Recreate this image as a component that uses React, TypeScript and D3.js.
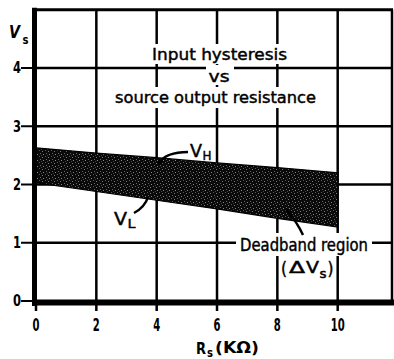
import React from "react";
import * as d3 from "d3";

// Source output resistance (kΩ) and the two switching thresholds (V)
const rs = [0, 2, 4, 6, 8, 10];
const vHigh = [2.63, 2.54, 2.46, 2.37, 2.29, 2.2];
const vLow = [2.03, 1.88, 1.73, 1.58, 1.42, 1.27];

const xTicks = [0, 2, 4, 6, 8, 10];
const yTicks = [0, 1, 2, 3, 4];
const xGrid = [2, 4, 6, 8, 10];
const yGrid = [1, 2, 3, 4];

const titleLines = ["Input hysteresis", "vs", "source output resistance"];

const W = 394;
const H = 359;
const FONT = "'DejaVu Sans', 'Liberation Sans', sans-serif";

// slightly heavier lettering
const ink = { stroke: "#000", strokeWidth: 0.45 };

export default function App() {
  const x = d3.scaleLinear().domain([0, 11.8]).range([36, 392]);
  const y = d3.scaleLinear().domain([0, 5]).range([301, 9.75]);

  const pts = rs.map((r, i) => ({ r, hi: vHigh[i], lo: vLow[i] }));
  const band = d3
    .area<{ r: number; hi: number; lo: number }>()
    .x((d) => x(d.r))
    .y0((d) => y(d.lo))
    .y1((d) => y(d.hi))(pts) as string;

  const top = y(5);
  const bottom = y(0);
  const left = x(0);
  const right = x(11.8);

  return (
    <svg
      width={W}
      height={H}
      viewBox={`0 0 ${W} ${H}`}
      style={{ position: "absolute", left: 0, top: 0, background: "#fff" }}
      fontFamily={FONT}
    >
      <defs>
        <pattern id="grain" width="6" height="6" patternUnits="userSpaceOnUse">
          <rect width="6" height="6" fill="#0a0a0a" />
          <rect x="0" y="1" width="1" height="1" fill="#7a7a7a" />
          <rect x="3" y="0" width="1" height="1" fill="#5a5a5a" />
          <rect x="1" y="4" width="1" height="1" fill="#888" />
          <rect x="4" y="3" width="1" height="1" fill="#666" />
          <rect x="5" y="5" width="1" height="1" fill="#444" />
        </pattern>
      </defs>

      {/* grid */}
      {xGrid.map((v) => (
        <line key={"gx" + v} x1={x(v)} x2={x(v)} y1={top} y2={bottom} stroke="#000" strokeWidth={2.5} />
      ))}
      {yGrid.map((v) => (
        <line key={"gy" + v} x1={left} x2={right} y1={y(v)} y2={y(v)} stroke="#000" strokeWidth={2.5} />
      ))}
      {/* frame: top and right */}
      <line x1={left} x2={right + 1} y1={top} y2={top} stroke="#000" strokeWidth={3} />
      <line x1={right} x2={right} y1={top} y2={bottom} stroke="#000" strokeWidth={2.5} />

      {/* white backings that break the grid around annotations */}
      <rect x={148} y={44} width={143} height={20} fill="#fff" />
      <rect x={206} y={65} width={28} height={20} fill="#fff" />
      <rect x={111} y={87} width={209} height={21} fill="#fff" />
      <rect x={236} y={233} width={136} height={23} fill="#fff" />
      <rect x={281} y={256} width={54} height={24} fill="#fff" />

      {/* deadband region between V_H and V_L */}
      <path d={band} fill="url(#grain)" stroke="#000" strokeWidth={1.2} />

      {/* axes */}
      <line x1={34.5} x2={34.5} y1={top - 2} y2={bottom + 5} stroke="#000" strokeWidth={5} />
      <line x1={32} x2={W} y1={bottom + 1.5} y2={bottom + 1.5} stroke="#000" strokeWidth={6} />

      {yTicks.map((v) => (
        <g key={"yt" + v}>
          <line x1={21} x2={34} y1={y(v)} y2={y(v)} stroke="#000" strokeWidth={2} />
          <text
            x={17}
            y={y(v)}
            dy="0.36em"
            textAnchor="middle"
            fontSize={15}
            fontWeight="bold"
            textLength={8}
            lengthAdjust="spacingAndGlyphs"
          >
            {v}
          </text>
        </g>
      ))}
      {xTicks.map((v) => (
        <g key={"xt" + v}>
          <line x1={x(v)} x2={x(v)} y1={bottom + 3} y2={bottom + 10} stroke="#000" strokeWidth={2.5} />
          <text
            x={x(v)}
            y={331}
            textAnchor="middle"
            fontSize={17}
            fontWeight="bold"
            textLength={String(v).length * 7}
            lengthAdjust="spacingAndGlyphs"
          >
            {v}
          </text>
        </g>
      ))}

      {/* axis titles */}
      <text x={9} y={38} fontSize={17} fontWeight="bold" fontStyle="italic" textLength={11} lengthAdjust="spacingAndGlyphs">
        V
      </text>
      <text x={22.5} y={44} fontSize={13} fontWeight="bold" textLength={6} lengthAdjust="spacingAndGlyphs">
        s
      </text>
      <text x={196} y={354} fontSize={15} fontWeight="bold" textLength={10} lengthAdjust="spacingAndGlyphs">
        R
      </text>
      <text x={207} y={357} fontSize={12} fontWeight="bold" textLength={6} lengthAdjust="spacingAndGlyphs">
        s
      </text>
      <text x={215} y={353} fontSize={15} fontWeight="bold" textLength={44} lengthAdjust="spacingAndGlyphs">
        (KΩ)
      </text>

      {/* title */}
      <g {...ink}>
        <text x={152} y={60} fontSize={16} textLength={135} lengthAdjust="spacingAndGlyphs">
          {titleLines[0]}
        </text>
        <text x={219} y={82} fontSize={16} textAnchor="middle" textLength={21} lengthAdjust="spacingAndGlyphs">
          {titleLines[1]}
        </text>
        <text x={115} y={103} fontSize={16} textLength={201} lengthAdjust="spacingAndGlyphs">
          {titleLines[2]}
        </text>
      </g>

      {/* V_H annotation */}
      <path d="M159,163 Q166,152 188,152" fill="none" stroke="#000" strokeWidth={2.5} />
      <circle cx={160} cy={162} r={2.5} fill="#000" />
      <g {...ink}>
        <text x={190} y={157} fontSize={17} textLength={12} lengthAdjust="spacingAndGlyphs">
          V
        </text>
        <text x={202.5} y={160} fontSize={13} textLength={9} lengthAdjust="spacingAndGlyphs">
          H
        </text>
      </g>

      {/* V_L annotation */}
      <path d="M134,213 Q145,207 148,197" fill="none" stroke="#000" strokeWidth={2.5} />
      <g {...ink}>
        <text x={114} y={225} fontSize={17} textLength={13} lengthAdjust="spacingAndGlyphs">
          V
        </text>
        <text x={127.5} y={228} fontSize={13} textLength={8} lengthAdjust="spacingAndGlyphs">
          L
        </text>
      </g>

      {/* deadband annotation */}
      <path d="M303,235 Q297,222 286,209" fill="none" stroke="#000" strokeWidth={2.5} />
      <g {...ink}>
        <text x={240} y={251} fontSize={17} textLength={128} lengthAdjust="spacingAndGlyphs">
          Deadband region
        </text>
        <text x={281} y={275} fontSize={17} textLength={6} lengthAdjust="spacingAndGlyphs">
          (
        </text>
        <text x={289} y={273} fontSize={15} textLength={16} lengthAdjust="spacingAndGlyphs">
          Δ
        </text>
        <text x={306} y={273} fontSize={16} textLength={13} lengthAdjust="spacingAndGlyphs">
          V
        </text>
        <text x={319.5} y={278} fontSize={12} textLength={7} lengthAdjust="spacingAndGlyphs">
          s
        </text>
        <text x={327.5} y={275} fontSize={17} textLength={6} lengthAdjust="spacingAndGlyphs">
          )
        </text>
      </g>
    </svg>
  );
}
